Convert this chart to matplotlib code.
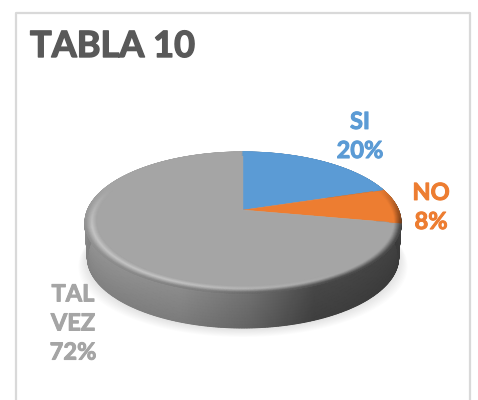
import numpy as np
import matplotlib
matplotlib.use("Agg")
import matplotlib.pyplot as plt
import matplotlib.patheffects as pe
from matplotlib.patches import Polygon

categories = ["SI", "NO", "TAL\nVEZ"]
values = [20, 8, 72]
colors = ["#5b9bd5", "#ed7d31", "#a5a5a5"]
title = "TABLA 10"
label_pos = [(360, 136), (431, 207), (73, 323)]

CX, CY = 243, 210
RX, UP, K = 155.5, 68.3, 0.177
DEPTH = 35
BEVEL = 0.93


def project(r, theta):
    # flat pie seen in perspective, far edge is squeezed
    u, v = r * np.cos(theta), r * np.sin(theta)
    d = 1 + K * v
    return CX + RX * u / d, CY - UP * v / d


def to_rgb(c):
    return np.array(matplotlib.colors.to_rgb(c))


plt.rcParams["font.family"] = ["Lato", "DejaVu Sans"]
fig = plt.figure(figsize=(4.78, 4.0), dpi=100)
ax = fig.add_axes([0, 0, 1, 1])
ax.set_xlim(0, 478)
ax.set_ylim(400, 0)
ax.axis("off")

# chart frame, bottom edge is cut off by the image
ax.plot([16, 16, 470, 470], [402, 13, 13, 402], color="#d9d9d9", lw=1.6, zorder=1)

theta = np.linspace(0, 2 * np.pi, 721)
x_edge, y_edge = project(1, theta)

# soft shadow
for grow in np.linspace(0.0, 9.0, 10):
    sx = CX + (x_edge - CX) * (0.985 + grow / 158)
    sy = y_edge + DEPTH + 1 + grow * 0.9
    ax.fill(sx, sy, color="black", alpha=0.011, lw=0, zorder=2)

# side wall, bottom edge a bit narrower than the top
z = np.linspace(0, 1, 12)
wall_x = CX + np.outer(1 - 0.015 * z, x_edge - CX)
wall_y = np.outer(np.ones_like(z), y_edge) + np.outer(z, np.full_like(x_edge, DEPTH))
grey = np.interp(x_edge, [85, 180, 250, 315, 401], [0.58, 0.55, 0.44, 0.28, 0.26])
wall_c = np.outer(1 - 0.12 * z, grey)
wall_rgb = np.dstack([wall_c, wall_c, wall_c])
ax.pcolormesh(wall_x, wall_y, wall_rgb, shading="gouraud", zorder=3)

# top face, slices clockwise from 12 o'clock
pct = np.array(values) / np.sum(values)
ends = np.pi / 2 - 2 * np.pi * np.cumsum(pct)
starts = np.r_[np.pi / 2, ends[:-1]]
for a0, a1, col in zip(starts, ends, colors):
    t = np.linspace(a0, a1, 200)
    x, y = project(1, t)
    pts = np.r_[[[CX, CY]], np.c_[x, y]]
    ax.add_patch(Polygon(pts, closed=True, facecolor=col, edgecolor=col, lw=0.3, zorder=4))

# bevel ring round the top face
rr = np.linspace(BEVEL, 1, 13)
tt = np.linspace(0, 1, 13)
T, R = np.meshgrid(theta, rr)
Xb, Yb = project(R, T)
base = np.zeros(T.shape + (3,))
a = (np.pi / 2 - T) % (2 * np.pi)
edges = np.cumsum(pct) * 2 * np.pi
for i, col in enumerate(colors):
    lo = 0 if i == 0 else edges[i - 1]
    base[(a >= lo) & (a <= edges[i] + 1e-9)] = to_rgb(col)
sin_t, cos_t = np.sin(T), np.cos(T)
w = np.clip((0.35 - sin_t) / 0.6, 0, 1)
high = 0.2 * np.clip((0.6 - cos_t) / 1.0, 0, 1)
out = np.interp(cos_t, [-1, -0.2, 0.5, 1], [0.88, 0.74, 0.42, 0.42])
s = np.meshgrid(theta, tt)[1]
shade = np.where(s < 0.45, 1 + high * s / 0.45,
                 (1 + high) + (out - 1 - high) * (s - 0.45) / 0.55)
shade = 1 + (shade - 1) * w
ax.pcolormesh(Xb, Yb, np.clip(base * shade[..., None], 0, 1), shading="gouraud", zorder=5)

# labels, Lato bold comes out thinner than the original so thicken it a little
for name, v, col, (lx, ly) in zip(categories, values, colors, label_pos):
    ax.text(lx, ly, f"{name}\n{v}%", color=col, fontsize=17, fontweight="bold",
            ha="center", va="center", linespacing=1.32, zorder=6,
            path_effects=[pe.withStroke(linewidth=0.7, foreground=col)])

ax.text(30, 46.5, title, color="#595959", fontsize=26, fontweight="bold",
        ha="left", va="center", zorder=6,
        path_effects=[pe.withStroke(linewidth=1.0, foreground="#595959")])

fig.savefig("out.png", dpi=100)
